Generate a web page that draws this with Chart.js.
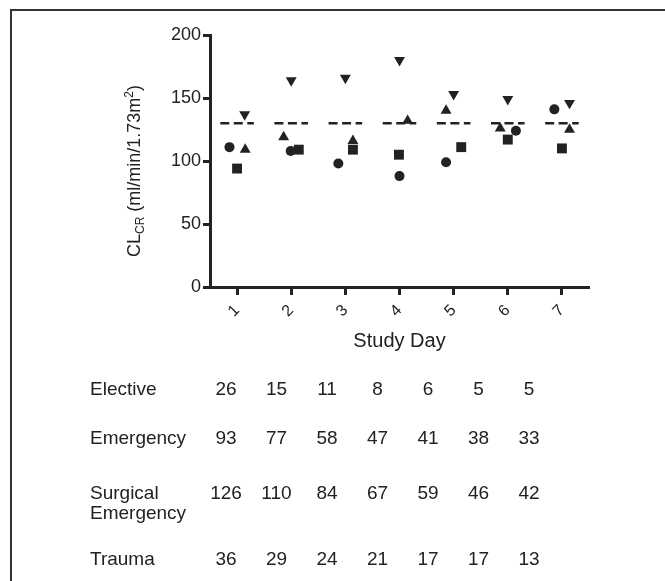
<!DOCTYPE html>
<html>
<head>
<meta charset="utf-8">
<script src="https://cdn.jsdelivr.net/npm/chart.js@4.4.1/dist/chart.umd.min.js"></script>
<style>
  html, body { margin: 0; padding: 0; background: #fff; }
  #wrap { width: 665px; height: 581px; position: relative; }
</style>
</head>
<body>
<div id="wrap"><canvas id="clcrChart" width="665" height="581"></canvas></div>
<script>
// Study days and the x position of each marker (markers are spread around the day)
const days = [1, 2, 3, 4, 5, 6, 7];

const circleX = [0.86, 1.99, 2.87, 4.0, 4.86, 6.15, 6.86];
const circleY = [111, 108, 98, 88, 99, 124, 141];

const squareX = [1.0, 2.14, 3.14, 3.99, 5.14, 6.0, 7.0];
const squareY = [94, 109, 109, 105, 111, 117, 110];

const triUpX = [1.15, 1.86, 3.14, 4.15, 4.86, 5.86, 7.14];
const triUpY = [109, 119, 116, 132, 140, 126, 125];

const triDownX = [1.14, 2.0, 3.0, 4.0, 5.0, 6.0, 7.14];
const triDownY = [137, 164, 166, 180, 153, 149, 146];

// dashed reference level for each day
const refLevel = [130, 130, 130, 130, 130, 130, 130];

const yTicks = [0, 50, 100, 150, 200];

// patient counts table under the chart
const rowLabels = [['Elective'], ['Emergency'], ['Surgical', 'Emergency'], ['Trauma']];
const elective = [26, 15, 11, 8, 6, 5, 5];
const emergency = [93, 77, 58, 47, 41, 38, 33];
const surgicalEmergency = [126, 110, 84, 67, 59, 46, 42];
const trauma = [36, 29, 24, 21, 17, 17, 13];

const ink = '#222';
const fontFamily = "'Liberation Sans', Arial, Helvetica, sans-serif";
Chart.defaults.font.family = fontFamily;
Chart.defaults.color = ink;

function toPoints(xs, ys) {
    return xs.map((x, i) => ({ x: x, y: ys[i] }));
}

function refSegments() {
    const pts = [];
    days.forEach((d, i) => {
        pts.push({ x: d - 0.31, y: refLevel[i] });
        pts.push({ x: d + 0.31, y: refLevel[i] });
        pts.push({ x: d + 0.5, y: null });
    });
    return pts;
}

// draws the frame, axis titles and the counts table
const extrasPlugin = {
    id: 'extras',
    afterDraw(chart) {
        const ctx = chart.ctx;
        const area = chart.chartArea;
        ctx.save();

        // frame (top and left only)
        ctx.strokeStyle = '#333';
        ctx.lineWidth = 2;
        ctx.beginPath();
        ctx.moveTo(11, 581);
        ctx.lineTo(11, 10);
        ctx.lineTo(665, 10);
        ctx.stroke();

        ctx.fillStyle = ink;

        // x title
        ctx.font = '20px ' + fontFamily;
        ctx.textAlign = 'center';
        ctx.textBaseline = 'middle';
        ctx.fillText('Study Day', (area.left + area.right) / 2, 341);

        // y title with subscript and superscript
        const parts = [
            { t: 'CL', size: 18, dy: 0 },
            { t: 'CR', size: 12, dy: 4 },
            { t: ' (ml/min/1.73m', size: 18, dy: 0 },
            { t: '2', size: 12, dy: -7 },
            { t: ')', size: 18, dy: 0 }
        ];
        let total = 0;
        parts.forEach(p => {
            ctx.font = p.size + 'px ' + fontFamily;
            p.w = ctx.measureText(p.t).width;
            total += p.w;
        });
        ctx.translate(140, 171);
        ctx.rotate(-Math.PI / 2);
        ctx.textAlign = 'left';
        ctx.textBaseline = 'alphabetic';
        let cx = -total / 2;
        parts.forEach(p => {
            ctx.font = p.size + 'px ' + fontFamily;
            ctx.fillText(p.t, cx, p.dy);
            cx += p.w;
        });
        ctx.setTransform(1, 0, 0, 1, 0, 0);

        // counts table
        const rows = [elective, emergency, surgicalEmergency, trauma];
        const rowY = [390, 439, 494, 560];
        const colX = i => 226 + i * 50.5;
        ctx.font = '19px ' + fontFamily;
        ctx.textBaseline = 'middle';
        rows.forEach((vals, r) => {
            ctx.textAlign = 'left';
            rowLabels[r].forEach((line, k) => {
                ctx.fillText(line, 90, rowY[r] + k * 20);
            });
            ctx.textAlign = 'center';
            vals.forEach((v, i) => ctx.fillText(String(v), colX(i), rowY[r]));
        });

        ctx.restore();
    }
};

const markerBase = {
    backgroundColor: ink,
    borderColor: ink,
    borderWidth: 0,
    showLine: false,
    clip: false
};

new Chart(document.getElementById('clcrChart').getContext('2d'), {
    type: 'scatter',
    data: {
        datasets: [
            {
                type: 'line',
                data: refSegments(),
                borderColor: ink,
                borderWidth: 2.5,
                borderDash: [9, 4.5],
                pointRadius: 0,
                spanGaps: false,
                fill: false
            },
            Object.assign({ data: toPoints(circleX, circleY), pointStyle: 'circle', pointRadius: 5 }, markerBase),
            Object.assign({ data: toPoints(squareX, squareY), pointStyle: 'rect', pointRadius: 7 }, markerBase),
            Object.assign({ data: toPoints(triUpX, triUpY), pointStyle: 'triangle', pointRadius: 6.3 }, markerBase),
            Object.assign({ data: toPoints(triDownX, triDownY), pointStyle: 'triangle', rotation: 180, pointRadius: 6.3 }, markerBase)
        ]
    },
    options: {
        responsive: false,
        animation: false,
        events: [],
        layout: { padding: { left: 150, top: 35, right: 76, bottom: 234 } },
        plugins: {
            legend: { display: false },
            tooltip: { enabled: false }
        },
        scales: {
            x: {
                type: 'linear',
                min: 0.5,
                max: 7.5,
                afterBuildTicks: s => { s.ticks = days.map(d => ({ value: d })); },
                afterFit: s => { s.height = 60; },
                ticks: {
                    minRotation: 45,
                    maxRotation: 45,
                    padding: 6,
                    font: { size: 16 },
                    color: ink
                },
                grid: {
                    drawOnChartArea: false,
                    drawTicks: true,
                    tickLength: 8,
                    tickWidth: 3,
                    tickColor: ink
                },
                border: { color: ink, width: 3 }
            },
            y: {
                min: 0,
                max: 200,
                afterBuildTicks: s => { s.ticks = yTicks.map(v => ({ value: v })); },
                afterFit: s => { s.width = 60; },
                ticks: {
                    padding: 2,
                    font: { size: 18 },
                    color: ink
                },
                grid: {
                    drawOnChartArea: false,
                    drawTicks: true,
                    tickLength: 7,
                    tickWidth: 3,
                    tickColor: ink
                },
                border: { color: ink, width: 3 }
            }
        }
    },
    plugins: [extrasPlugin]
});
</script>
</body>
</html>
